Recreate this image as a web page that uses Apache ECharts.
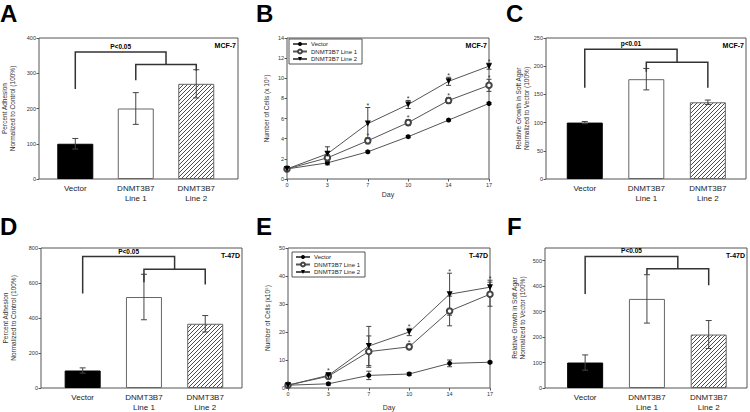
<!DOCTYPE html>
<html><head><meta charset="utf-8">
<script src="https://cdn.jsdelivr.net/npm/echarts@6/dist/echarts.min.js"></script>
<style>html,body{margin:0;padding:0;background:#fff}#c{width:750px;height:412px}</style>
</head><body><div id="c"></div>
<script>
// ---------- data ----------
const barCategories = ['Vector', 'DNMT3B7\nLine 1', 'DNMT3B7\nLine 2'];

const adhesionMCF7 = [100, 200, 270];
const adhesionMCF7Err = [15, 45, 40];
const softAgarMCF7 = [100, 177, 136];
const softAgarMCF7Err = [2, 19, 4];
const adhesionT47D = [100, 520, 367];
const adhesionT47DErr = [15, 130, 47];
const softAgarT47D = [100, 350, 210];
const softAgarT47DErr = [30, 95, 55];

// brackets: [top, inner, leg1, leg2, leg3] in data units
const bracketA = [360, 325, 255, 280, 307];
const bracketC = [230, 207, 162, 190, 162];
const bracketD = [751, 678, 540, 605, 591];
const bracketF = [517, 468, 369, 446, 404];

const days = ['0', '3', '7', '10', '14', '17'];
const lineNames = ['Vector', 'DNMT3B7 Line 1', 'DNMT3B7 Line 2'];

const growthMCF7Vector = [1, 1.6, 2.7, 4.2, 5.85, 7.5];
const growthMCF7VectorErr = [0.05, 0.2, 0.1, 0.1, 0.1, 0.1];
const growthMCF7Line1 = [1, 2.1, 3.8, 5.6, 7.8, 9.3];
const growthMCF7Line1Err = [0.05, 0.3, 0.3, 0.3, 0.3, 0.6];
const growthMCF7Line2 = [1, 2.5, 5.5, 7.4, 9.7, 11.2];
const growthMCF7Line2Err = [0.05, 0.7, 1.6, 0.4, 0.4, 0.3];
const starsMCF7Line1 = [0, 0, 1, 1, 1, 1];
const starsMCF7Line2 = [0, 0, 1, 1, 1, 1];

const growthT47DVector = [1, 1.5, 4.5, 5, 8.8, 9.2];
const growthT47DVectorErr = [0.2, 0.5, 1.5, 0.5, 1.2, 0.3];
const growthT47DLine1 = [1, 4.2, 13, 14.7, 27.5, 33.5];
const growthT47DLine1Err = [0.2, 1, 5.6, 1, 5.3, 4.3];
const growthT47DLine2 = [1, 4.5, 15, 20, 33.5, 36];
const growthT47DLine2Err = [0.2, 1, 7, 1.3, 7.5, 2.5];
const starsT47DLine1 = [0, 0, 0, 1, 1, 0];
const starsT47DLine2 = [0, 1, 0, 1, 1, 1];

const ticksA = [0, 100, 200, 300, 400];
const ticksB = [0, 2, 4, 6, 8, 10, 12, 14];
const ticksC = [0, 50, 100, 150, 200, 250];
const ticksD = [0, 200, 400, 600, 800];
const ticksE = [0, 10, 20, 30, 40, 50];
const ticksF = [0, 100, 200, 300, 400, 500];

// ---------- styling / helpers ----------
const FONT = 'Arial, "Liberation Sans", sans-serif';
const FRAME = '#555';
const ERR = '#444';

// diagonal "///" hatch tile
const hatch = document.createElement('canvas');
hatch.width = 4; hatch.height = 4;
(function () {
  const g = hatch.getContext('2d');
  g.fillStyle = '#fff'; g.fillRect(0, 0, 4, 4);
  g.strokeStyle = '#3a3a3a'; g.lineWidth = 0.9;
  g.beginPath();
  g.moveTo(-1, 5); g.lineTo(5, -1);
  g.moveTo(-1, 1); g.lineTo(1, -1);
  g.moveTo(3, 5); g.lineTo(5, 3);
  g.stroke();
})();

const grids = [
  {left: 39, top: 38, width: 199, height: 141},
  {left: 287, top: 38, width: 202, height: 141},
  {left: 546, top: 38, width: 200, height: 141},
  {left: 41, top: 248, width: 201, height: 142},
  {left: 288, top: 248, width: 202, height: 141},
  {left: 545, top: 248, width: 202, height: 141}
].map(g => Object.assign({show: true, borderColor: FRAME, borderWidth: 1, backgroundColor: 'transparent'}, g));

function yAxis(gi, ticks, max, name, gap) {
  return {
    type: 'value', gridIndex: gi, min: 0, max: max,
    axisLine: {show: false},
    axisTick: {show: true, length: 2.5, customValues: ticks, lineStyle: {color: FRAME}},
    splitLine: {show: false},
    axisLabel: {customValues: ticks, fontSize: 5.5, color: '#333', margin: 3, fontFamily: FONT},
    name: name, nameLocation: 'middle', nameGap: gap, nameRotate: 90,
    nameTextStyle: {fontSize: 6.5, color: '#333', lineHeight: 7.5, fontFamily: FONT}
  };
}
function barXAxis(gi, min, max) {
  return {
    type: 'value', gridIndex: gi, min: min, max: max,
    axisLine: {show: false}, axisTick: {show: false}, splitLine: {show: false},
    axisLabel: {
      customValues: barCategories.map((c, i) => i + 1),
      formatter: v => barCategories[Math.round(v) - 1] || '',
      fontSize: 8, lineHeight: 10, color: '#222', margin: 4, fontFamily: FONT
    }
  };
}
function dayXAxis(gi, gap) {
  return {
    type: 'category', gridIndex: gi, data: days, boundaryGap: false,
    axisLine: {show: false},
    axisTick: {show: true, length: 2.5, lineStyle: {color: FRAME}},
    axisLabel: {fontSize: 5.5, color: '#333', margin: 3, fontFamily: FONT},
    name: 'Day', nameLocation: 'middle', nameGap: gap,
    nameTextStyle: {fontSize: 7, color: '#333', fontFamily: FONT}
  };
}

const barStyles = [
  {color: '#000', borderColor: '#000', borderWidth: 1},
  {color: '#fff', borderColor: '#666', borderWidth: 1},
  {color: {image: hatch, repeat: 'repeat'}, borderColor: '#666', borderWidth: 1}
];

function barSeries(gi, vals) {
  return {
    type: 'bar', xAxisIndex: gi, yAxisIndex: gi, barWidth: 36, z: 2,
    data: vals.map((v, i) => ({value: [i + 1, v], itemStyle: barStyles[i]}))
  };
}
function errLines(top, bot, hw, color) {
  const st = {stroke: color, lineWidth: 1};
  return [
    {type: 'line', shape: {x1: top[0], y1: top[1], x2: bot[0], y2: bot[1]}, style: st},
    {type: 'line', shape: {x1: top[0] - hw, y1: top[1], x2: top[0] + hw, y2: top[1]}, style: st},
    {type: 'line', shape: {x1: bot[0] - hw, y1: bot[1], x2: bot[0] + hw, y2: bot[1]}, style: st}
  ];
}
function barErrSeries(gi, vals, errs) {
  return {
    type: 'custom', xAxisIndex: gi, yAxisIndex: gi, z: 5,
    data: vals.map((v, i) => [i + 1, v, errs[i]]),
    renderItem: (p, api) => {
      const x = api.value(0), y = api.value(1), e = api.value(2);
      return {type: 'group', children: errLines(api.coord([x, y + e]), api.coord([x, y - e]), 3, ERR)};
    }
  };
}
function bracketSeries(gi, br, label) {
  return {
    type: 'custom', xAxisIndex: gi, yAxisIndex: gi, z: 6,
    data: [[1].concat(br)],
    renderItem: (p, api) => {
      const top = api.value(1), inner = api.value(2);
      const l1 = api.value(3), l2 = api.value(4), l3 = api.value(5);
      const c = (x, y) => api.coord([x, y]);
      const st = {stroke: '#333', lineWidth: 1.5, fill: null};
      const t = c(1.75, top);
      return {type: 'group', children: [
        {type: 'polyline', shape: {points: [c(1, l1), c(1, top), c(2.5, top), c(2.5, inner)]}, style: st},
        {type: 'polyline', shape: {points: [c(2, l2), c(2, inner), c(3, inner), c(3, l3)]}, style: st},
        {type: 'text', x: t[0], y: t[1] - 2, style: {text: label, fontSize: 6.5, fontWeight: 'bold',
          fontFamily: FONT, fill: '#000', align: 'center', verticalAlign: 'bottom'}}
      ]};
    }
  };
}

const lineStyles = [
  {symbol: 'circle', symbolSize: 5, symbolRotate: 0, itemStyle: {color: '#000'}},
  {symbol: 'emptyCircle', symbolSize: 5.5, symbolRotate: 0, itemStyle: {color: '#444', borderWidth: 0.8}},
  {symbol: 'triangle', symbolSize: 6, symbolRotate: 180, itemStyle: {color: '#000'}}
];
function lineSeries(gi, idx, vals) {
  return Object.assign({
    type: 'line', name: lineNames[idx], xAxisIndex: gi, yAxisIndex: gi, z: 4,
    data: vals, lineStyle: {color: '#555', width: 1}
  }, lineStyles[idx]);
}
function lineErrSeries(gi, vals, errs, stars) {
  return {
    type: 'custom', xAxisIndex: gi, yAxisIndex: gi, z: 3,
    data: vals.map((v, i) => [i, v, errs[i], stars ? stars[i] : 0]),
    renderItem: (p, api) => {
      const x = api.value(0), y = api.value(1), e = api.value(2), s = api.value(3);
      const top = api.coord([x, y + e]);
      const ch = errLines(top, api.coord([x, y - e]), 2.5, ERR);
      if (s) ch.push({type: 'text', x: top[0], y: top[1] + 1.5, style: {text: '*', fontSize: 7,
        fontFamily: FONT, fill: '#333', align: 'center', verticalAlign: 'bottom'}});
      return {type: 'group', children: ch};
    }
  };
}

function legendAt(left, top) {
  return {
    data: lineNames, left: left, top: top, orient: 'vertical',
    itemWidth: 14, itemHeight: 5, itemGap: 1.5, padding: [2, 5, 2, 3],
    borderColor: FRAME, borderWidth: 1, backgroundColor: '#fff',
    textStyle: {fontSize: 6, color: '#222', fontFamily: FONT, padding: [0, 0, 0, -1]}
  };
}
function txt(x, y, text, size, align) {
  return {type: 'text', x: x, y: y, style: {text: text, fontSize: size, fontWeight: 'bold',
    fontFamily: FONT, fill: '#000', align: align || 'left', verticalAlign: 'top'}};
}

const option = {
  animation: false,
  backgroundColor: '#fff',
  grid: grids,
  legend: [legendAt(289, 39), legendAt(292, 252)],
  xAxis: [
    barXAxis(0, 0.40, 3.69),
    dayXAxis(1, 12),
    barXAxis(2, 0.37, 3.62),
    barXAxis(3, 0.32, 3.60),
    dayXAxis(4, 16),
    barXAxis(5, 0.35, 3.62)
  ],
  yAxis: [
    yAxis(0, ticksA, 400, 'Percent Adhesion\nNormalized to Control (100%)', 23),
    yAxis(1, ticksB, 14, 'Number of Cells (x 10\u2075)', 17),
    yAxis(2, ticksC, 250, 'Relative Growth in Soft Agar\nNormalized to Vector (100%)', 12),
    yAxis(3, ticksD, 800, 'Percent Adhesion\nNormalized to Control (100%)', 24),
    yAxis(4, ticksE, 50, 'Number of Cells (x10\u2075)', 17),
    yAxis(5, ticksF, 550, 'Relative Growth in Soft Agar\nNormalized to Vector (100%)', 19)
  ],
  series: [
    barSeries(0, adhesionMCF7), barErrSeries(0, adhesionMCF7, adhesionMCF7Err), bracketSeries(0, bracketA, 'P<0.05'),
    barSeries(2, softAgarMCF7), barErrSeries(2, softAgarMCF7, softAgarMCF7Err), bracketSeries(2, bracketC, 'p<0.01'),
    barSeries(3, adhesionT47D), barErrSeries(3, adhesionT47D, adhesionT47DErr), bracketSeries(3, bracketD, 'P<0.05'),
    barSeries(5, softAgarT47D), barErrSeries(5, softAgarT47D, softAgarT47DErr), bracketSeries(5, bracketF, 'P<0.05'),

    lineErrSeries(1, growthMCF7Vector, growthMCF7VectorErr, null),
    lineErrSeries(1, growthMCF7Line1, growthMCF7Line1Err, starsMCF7Line1),
    lineErrSeries(1, growthMCF7Line2, growthMCF7Line2Err, starsMCF7Line2),
    lineSeries(1, 0, growthMCF7Vector), lineSeries(1, 1, growthMCF7Line1), lineSeries(1, 2, growthMCF7Line2),

    lineErrSeries(4, growthT47DVector, growthT47DVectorErr, null),
    lineErrSeries(4, growthT47DLine1, growthT47DLine1Err, starsT47DLine1),
    lineErrSeries(4, growthT47DLine2, growthT47DLine2Err, starsT47DLine2),
    lineSeries(4, 0, growthT47DVector), lineSeries(4, 1, growthT47DLine1), lineSeries(4, 2, growthT47DLine2)
  ],
  graphic: [
    txt(0, 1, 'A', 24), txt(256, 1, 'B', 24), txt(506, 1, 'C', 24),
    txt(0, 214, 'D', 24), txt(256, 214, 'E', 24), txt(507, 214, 'F', 24),
    txt(236, 42, 'MCF-7', 7, 'right'), txt(487, 42, 'MCF-7', 7, 'right'), txt(744, 42, 'MCF-7', 7, 'right'),
    txt(240, 252, 'T-47D', 7, 'right'), txt(488, 252, 'T-47D', 7, 'right'), txt(745, 252, 'T-47D', 7, 'right')
  ]
};

const chart = echarts.init(document.getElementById('c'), null, {renderer: 'svg'});
chart.setOption(option);
</script>
</body></html>
